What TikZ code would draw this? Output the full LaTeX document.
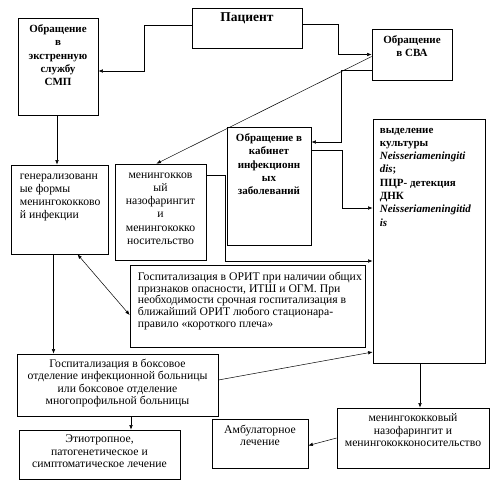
\documentclass[tikz,border=0pt]{standalone}
\usepackage{fontspec}
\setmainfont{Liberation Serif}
\usetikzlibrary{arrows.meta,positioning}

\begin{document}
\begin{tikzpicture}[
  x=1pt, y=-1pt,
  box/.style={draw, line width=0.7pt, inner sep=0pt},
  txt/.style={align=center, inner sep=0pt, font=\fontsize{11.7}{12.4}\selectfont},
  txtb/.style={txt, font=\fontsize{11}{13.2}\selectfont\bfseries},
  flow/.style={-{Latex[length=4.5pt,width=3.5pt]}, line width=0.5pt},
  both/.style={{Latex[length=4.5pt,width=3.5pt]}-{Latex[length=4.5pt,width=3.5pt]}, line width=0.5pt},
]
  \useasboundingbox (0,0) rectangle (500,487);
  % --- top row ---
  \node[box, minimum width=110pt, minimum height=40pt] (pat) at (247,28) {};
  \node[txtb, font=\fontsize{13.5}{15}\selectfont\bfseries, below=5pt of pat.north] {Пациент};
  \node[box, minimum width=80pt, minimum height=97pt] (smp) at (58,66.5) {};
  \node[txtb, below=7pt of smp.north] {Обращение\\ в\\ экстренную\\ службу\\ СМП};
  \node[box, minimum width=80pt, minimum height=51pt] (sva) at (412,54.5) {};
  \node[txtb, below=7pt of sva.north] {Обращение\\ в СВА};
  % --- middle row ---
  \node[box, minimum width=84pt, minimum height=118pt] (kab) at (269,186) {};
  \node[txtb, below=7pt of kab.north] {Обращение в\\ кабинет\\ инфекционн\\ ых\\ заболеваний};
  \node[box, minimum width=112pt, minimum height=244pt] (vyd) at (429,241) {};
  \node[txtb, font=\fontsize{11}{13.3}\selectfont\bfseries, align=left,
    below right=9pt and 7pt of vyd.north west]
    {выделение\\ культуры\\ \textit{Neisseriameningiti}\\ \textit{dis};\\ ПЦР- детекция\\ ДНК\\
     \textit{Neisseriameningitid}\\ \textit{is}};
  \node[box, minimum width=97pt, minimum height=89pt] (gen) at (59.5,209.5) {};
  \node[txt, font=\fontsize{11.7}{13}\selectfont, align=left,
    below right=9pt and 9pt of gen.north west]
    {генерализованн\\ ые формы\\ менингококково\\ й инфекции};
  \node[box, minimum width=91pt, minimum height=96pt] (men) at (160.5,212) {};
  \node[txt, font=\fontsize{11.7}{13.2}\selectfont, below=9pt of men.north]
    {менингокков\\ ый\\ назофарингит\\ и\\ менингококко\\ носительство};
  \node[box, minimum width=235pt, minimum height=82pt] (orit) at (247.5,306) {};
  \node[txt, font=\fontsize{11.7}{11.8}\selectfont, align=left,
    below right=7pt and 8pt of orit.north west]
    {Госпитализация в ОРИТ при наличии общих\\ признаков опасности, ИТШ и ОГМ. При\\
     необходимости срочная госпитализация в\\ ближайший ОРИТ любого стационара-\\
     правило «короткого плеча»};
  % --- bottom rows ---
  \node[box, minimum width=201pt, minimum height=62pt] (hosp) at (117.5,385) {};
  \node[txt, below=5pt of hosp.north]
    {Госпитализация в боксовое\\ отделение инфекционной больницы\\ или боксовое отделение\\ многопрофильной больницы};
  \node[box, minimum width=161pt, minimum height=49pt] (etio) at (99.5,454.5) {};
  \node[txt, below=5pt of etio.north]
    {Этиотропное,\\ патогенетическое и\\ симптоматическое лечение};
  \node[box, minimum width=96pt, minimum height=49pt] (amb) at (260,443.5) {};
  \node[txt, below=6pt of amb.north] {Амбулаторное\\ лечение};
  \node[box, minimum width=152pt, minimum height=60pt] (nas) at (413,438) {};
  \node[txt, below=6pt of nas.north]
    {менингококковый\\ назофарингит и\\ менингококконосительство};
  % --- from the patient ---
  \draw[flow] ([yshift=3pt]pat.west) -- ++(-47,0) |- ([yshift=-4.5pt]smp.east);
  \draw[flow] ([yshift=4pt]pat.east) -- ++(36,0) |- (sva.west);
  % --- from СВА ---
  \draw[flow] ([yshift=-2pt]sva.west) -- ([xshift=-4pt]men.north);
  \draw[flow] ([yshift=-16pt]sva.west) -- ++(-30,0) |- ([yshift=44pt]kab.east);
  \draw[flow] ([yshift=36pt]kab.east) -- ++(31,0) |- ([yshift=33pt]vyd.west);
  \draw[flow] ([yshift=37pt]men.east) -- ++(19,0) |- ([yshift=-20pt]vyd.west);
  % --- left column ---
  \draw[flow] ([xshift=-1pt]smp.south) -- ([xshift=-1pt]smp.south |- gen.north);
  \draw[both] ([xshift=18pt]gen.south) -- ([yshift=-9pt]orit.west);
  \draw[flow] ([xshift=-6pt]gen.south) -- ([xshift=-6pt]gen.south |- hosp.north);
  \draw[flow] ([yshift=5pt]hosp.east) -- ([yshift=-111pt]vyd.west);
  \draw[flow] ([xshift=13.5pt]hosp.south) -- ([xshift=13.5pt]hosp.south |- etio.north);
  % --- right column ---
  \draw[flow] ([xshift=-9pt]vyd.south) -- ([xshift=-9pt]vyd.south |- nas.north);
  \draw[flow] (nas.west) -- ([yshift=-2pt]amb.east);
\end{tikzpicture}
\end{document}
